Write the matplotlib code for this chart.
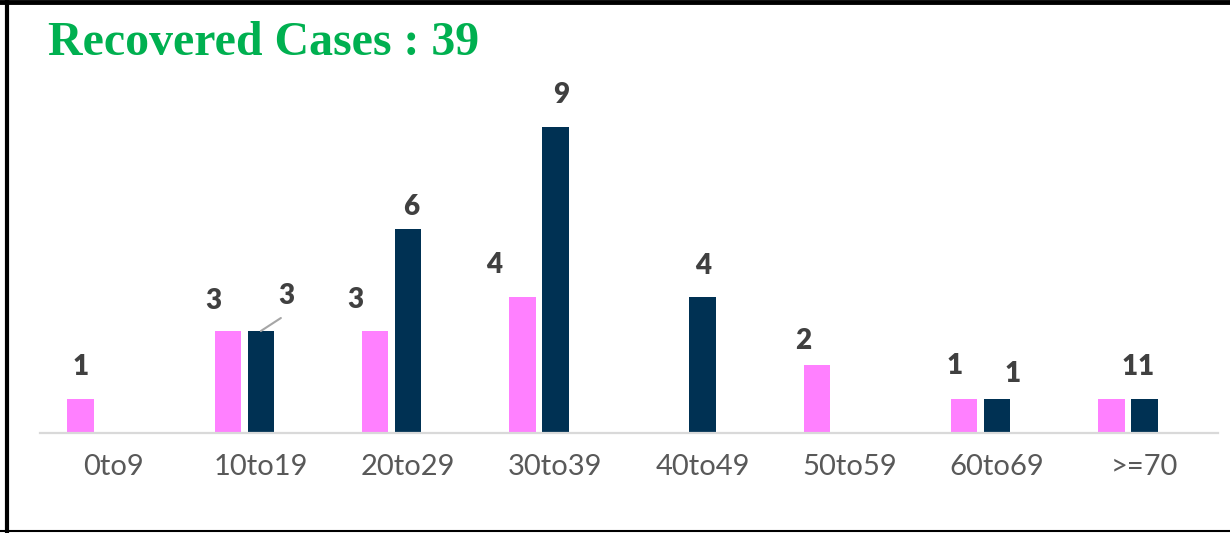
import numpy as np
import matplotlib
matplotlib.use("Agg")
import matplotlib.pyplot as plt
from matplotlib.lines import Line2D

# data
age_groups = ["0to9", "10to19", "20to29", "30to39", "40to49", "50to59", "60to69", ">=70"]
pink_vals = [1, 3, 3, 4, 0, 2, 1, 1]
navy_vals = [0, 3, 6, 9, 4, 0, 1, 1]
title_text = "Recovered Cases : 39"

# label nudges in pixels (dx, dy up), to mimic the hand-placed labels
pink_nudge = [(0, 0), (-15, -2), (-20, -1), (-28, 0), (0, 0), (-14, -8), (-10, 1), (18, 0)]
navy_nudge = [(0, 0), (25, 3), (3, -10), (6, 0), (1, -1), (0, 0), (15, -7), (1, 0)]

PINK = "#ff80ff"
NAVY = "#003153"
LABEL_C = "#404040"

W, H = 1230, 533
fig = plt.figure(figsize=(W / 100, H / 100), dpi=100)
ax = fig.add_axes([40 / W, (H - 433) / H, 1178 / W, 340 / H])

x = np.arange(len(age_groups))
bw = 0.18
off = 0.224
ax.bar(x - off, pink_vals, bw, color=PINK, edgecolor="none")
ax.bar(x, navy_vals, bw, color=NAVY, edgecolor="none")

ax.set_xlim(-0.5, 7.5)
ax.set_ylim(0, 10)
for s in ["top", "right", "left"]:
    ax.spines[s].set_visible(False)
ax.spines["bottom"].set_color("#d9d9d9")
ax.spines["bottom"].set_linewidth(1.6)
ax.set_yticks([])
ax.set_xticks(x)
ax.set_xticklabels(age_groups, fontfamily="Lato", fontsize=21, color="#595959")
ax.tick_params(axis="x", length=0, pad=15)


def put_labels(xs, vals, nudges):
    for xi, v, (dx, dy) in zip(xs, vals, nudges):
        if v == 0:
            continue
        ax.annotate(str(v), (xi, v), xytext=(dx * 0.72, (32 + dy) * 0.72),
                    textcoords="offset points", ha="center", va="center",
                    fontfamily="Lato", fontweight="heavy", fontsize=20, color=LABEL_C)


put_labels(x - off, pink_vals, pink_nudge)
put_labels(x, navy_vals, navy_nudge)

# leader line for the 10to19 navy label
ax.annotate("", (x[1], navy_vals[1]), xytext=(20 * 0.72, 13 * 0.72),
            textcoords="offset points",
            arrowprops=dict(arrowstyle="-", color="#a6a6a6", lw=1.5,
                            shrinkA=0, shrinkB=0))

fig.text(48 / W, 1 - 55 / H, title_text, fontfamily="Liberation Serif",
         fontweight="bold", fontsize=34.5, color="#00b050", va="baseline")

# frame around the picture (top, left, bottom)
fig.add_artist(Line2D([0, 1], [1 - 2 / H, 1 - 2 / H], color="black", lw=3.5,
                      transform=fig.transFigure))
fig.add_artist(Line2D([7 / W, 7 / W], [0, 1], color="black", lw=3,
                      transform=fig.transFigure))
fig.add_artist(Line2D([0, 1], [2 / H, 2 / H], color="black", lw=1.5,
                      transform=fig.transFigure))

fig.savefig("out.png", dpi=100, facecolor="white")
